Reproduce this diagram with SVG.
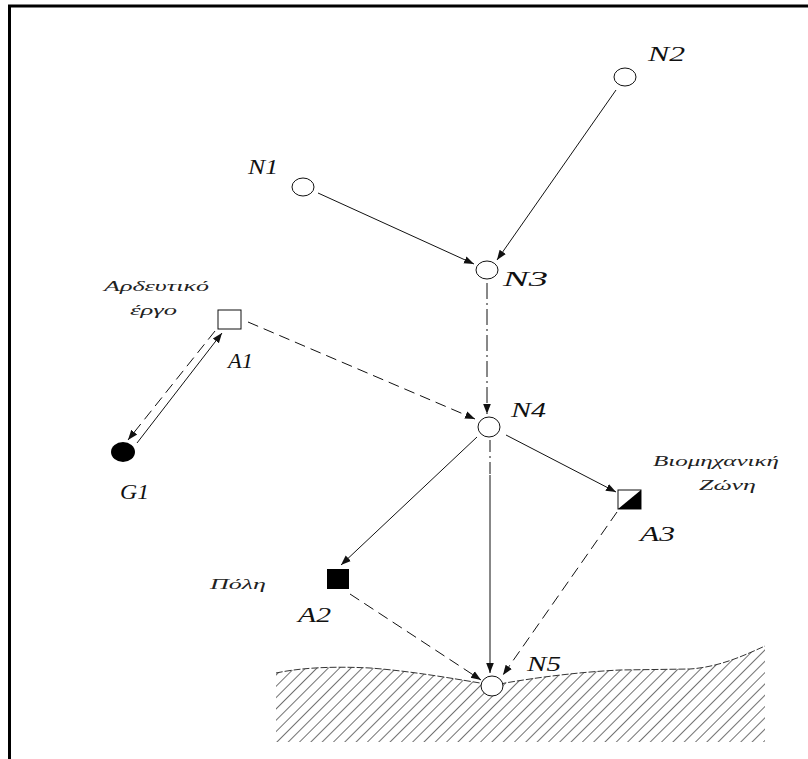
<svg xmlns="http://www.w3.org/2000/svg" width="808" height="759" viewBox="0 0 808 759">
<style>
.lbl{font-family:"Liberation Serif",serif;font-style:italic;font-size:20px;fill:#111}
.gr{font-family:"Liberation Serif",serif;font-style:italic;font-size:15px;fill:#222}
.node{fill:#fff;stroke:#111;stroke-width:1}
.c{fill:none;stroke:#111;stroke-width:1}
.d{stroke-dasharray:11 6}
.dd{stroke-dasharray:16 4 2 4}
</style>
<defs>
<marker id="ah" viewBox="0 0 10 10" refX="10" refY="5" markerWidth="10" markerHeight="10" markerUnits="userSpaceOnUse" orient="auto">
<path d="M0,1.2 L10,5 L0,8.8 Z" fill="#111"/>
</marker>
<pattern id="hatch" width="8" height="8" patternUnits="userSpaceOnUse" patternTransform="rotate(45)">
<line x1="0" y1="0" x2="0" y2="8" stroke="#111" stroke-width="1.2"/>
</pattern>
<clipPath id="gclip"><path d="M276,673 C300,668 330,666 370,668 C410,671 450,678 480,683 Q492,687 505,683 C540,677 580,672 620,670 L690,669 C720,667 745,655 765,646 L765,742 L276,742 Z"/></clipPath>
</defs>
<rect width="808" height="759" fill="#fff"/>
<path d="M9.5,759 L9.5,6 L808,6" fill="none" stroke="#000" stroke-width="3"/>
<g id="ground">
<rect x="276" y="640" width="490" height="102" fill="url(#hatch)" clip-path="url(#gclip)"/>
<path d="M276,673 C300,668 330,666 370,668 C410,671 450,678 480,683 Q492,687 505,683 C540,677 580,672 620,670 L690,669 C720,667 745,655 765,646" fill="none" stroke="#333" stroke-width="1" stroke-dasharray="7 2"/>
</g>
<g id="connectors">
<line class="c" x1="318" y1="193" x2="474" y2="264" marker-end="url(#ah)"/>
<line class="c" x1="616" y1="90" x2="497" y2="260" marker-end="url(#ah)"/>
<line class="c dd" x1="487" y1="283" x2="487" y2="414" marker-end="url(#ah)"/>
<line class="c d" x1="248" y1="322" x2="475" y2="419" marker-end="url(#ah)"/>
<line class="c" x1="137" y1="443" x2="222" y2="333" marker-end="url(#ah)"/>
<line class="c d" x1="215" y1="331" x2="128" y2="440" marker-end="url(#ah)"/>
<line class="c" x1="477" y1="437" x2="341" y2="565" marker-end="url(#ah)"/>
<line class="c" x1="506" y1="435" x2="616" y2="492" marker-end="url(#ah)"/>
<line class="c" x1="490" y1="440" x2="490" y2="475" stroke-dasharray="12 4 2 4"/>
<line class="c" x1="490" y1="475" x2="490" y2="673" marker-end="url(#ah)"/>
<line class="c d" x1="350" y1="594" x2="481" y2="680" marker-end="url(#ah)"/>
<line class="c d" x1="617" y1="512" x2="503" y2="675" marker-end="url(#ah)"/>
</g>
<g id="N1"><ellipse class="node" cx="303" cy="187" rx="11" ry="9"/><text class="lbl" x="248" y="174" textLength="30" lengthAdjust="spacingAndGlyphs">N1</text></g>
<g id="N2"><ellipse class="node" cx="625" cy="77" rx="11" ry="9"/><text class="lbl" x="648" y="61" textLength="37" lengthAdjust="spacingAndGlyphs">N2</text></g>
<g id="N3"><ellipse class="node" cx="487" cy="270" rx="11" ry="9"/><text class="lbl" x="503" y="286" textLength="45" lengthAdjust="spacingAndGlyphs">N3</text></g>
<g id="N4"><ellipse class="node" cx="489" cy="427" rx="11" ry="10"/><text class="lbl" x="511" y="417" textLength="35" lengthAdjust="spacingAndGlyphs">N4</text></g>
<g id="N5"><ellipse class="node" cx="492" cy="686" rx="11" ry="10"/><text class="lbl" x="527" y="671" textLength="34" lengthAdjust="spacingAndGlyphs">N5</text></g>
<g id="A1"><rect class="node" x="218" y="310" width="23" height="19"/><text class="lbl" x="228" y="368" textLength="25" lengthAdjust="spacingAndGlyphs">A1</text>
<text class="gr" x="104" y="291" textLength="105" lengthAdjust="spacingAndGlyphs">Αρδευτικό</text><text class="gr" x="130" y="315" textLength="47" lengthAdjust="spacingAndGlyphs">έργο</text></g>
<g id="G1"><ellipse cx="123" cy="452" rx="12" ry="10" fill="#000"/><text class="lbl" x="120" y="499" textLength="29" lengthAdjust="spacingAndGlyphs">G1</text></g>
<g id="A2"><rect x="327" y="569" width="22" height="20" fill="#000"/><text class="lbl" x="298" y="622" textLength="33" lengthAdjust="spacingAndGlyphs">A2</text>
<text class="gr" x="210" y="589" textLength="56" lengthAdjust="spacingAndGlyphs">Πόλη</text></g>
<g id="A3"><rect class="node" x="618" y="490" width="23" height="19"/><path d="M641,490 L641,509 L618,509 Z" fill="#000"/><text class="lbl" x="640" y="541" textLength="35" lengthAdjust="spacingAndGlyphs">A3</text>
<text class="gr" x="653" y="466" textLength="126" lengthAdjust="spacingAndGlyphs">Βιομηχανική</text><text class="gr" x="699" y="490" textLength="57" lengthAdjust="spacingAndGlyphs">Ζώνη</text></g>
</svg>
